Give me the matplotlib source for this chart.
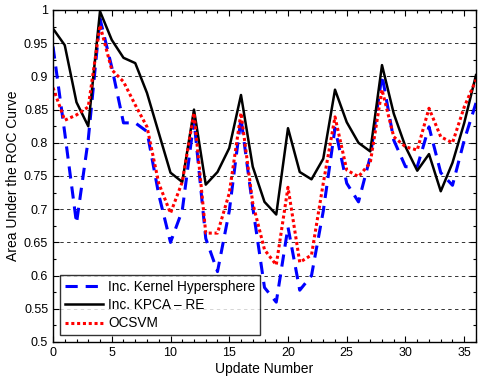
import matplotlib
matplotlib.use("Agg")
import matplotlib.pyplot as plt
from matplotlib.ticker import MultipleLocator
import numpy as np

plt.rcParams['font.family'] = ['Liberation Sans', 'DejaVu Sans']

updates = list(range(37))
kernel_hypersphere = [0.945, 0.815, 0.679, 0.805, 0.987, 0.914, 0.830, 0.830, 0.817, 0.722,
                      0.650, 0.698, 0.834, 0.656, 0.606, 0.697, 0.837, 0.703, 0.582, 0.560,
                      0.673, 0.578, 0.600, 0.697, 0.822, 0.739, 0.711, 0.779, 0.902, 0.804,
                      0.764, 0.764, 0.824, 0.755, 0.736, 0.804, 0.860]
kpca_re = [0.972, 0.947, 0.861, 0.825, 0.998, 0.955, 0.928, 0.920, 0.875, 0.815,
           0.755, 0.741, 0.850, 0.737, 0.756, 0.792, 0.872, 0.764, 0.711, 0.692,
           0.822, 0.756, 0.745, 0.776, 0.880, 0.831, 0.800, 0.787, 0.917, 0.844,
           0.794, 0.758, 0.783, 0.727, 0.770, 0.830, 0.902]
ocsvm = [0.883, 0.834, 0.842, 0.854, 0.977, 0.910, 0.892, 0.857, 0.824, 0.739,
         0.694, 0.741, 0.845, 0.664, 0.664, 0.724, 0.845, 0.709, 0.639, 0.616,
         0.733, 0.620, 0.631, 0.739, 0.839, 0.759, 0.749, 0.770, 0.880, 0.809,
         0.794, 0.789, 0.852, 0.809, 0.800, 0.854, 0.895]
labels = ['Inc. Kernel Hypersphere', 'Inc. KPCA \u2013 RE', 'OCSVM']

fig = plt.figure(figsize=(4.81, 3.84), dpi=100)
ax = fig.add_axes([53/481, 1-342/384, (476-53)/481, (342-10)/384])

ax.plot(updates, kernel_hypersphere, color='#0000ff', lw=2.2, dashes=(4, 2.6), label=labels[0])
ax.plot(updates, kpca_re, color='black', lw=1.8, label=labels[1])
ax.plot(updates, ocsvm, color='#ff0000', lw=2.2, dashes=(1, 0.9), label=labels[2])

ax.set_xlim(0, 36)
ax.set_ylim(0.5, 1.0)
ax.xaxis.set_major_locator(MultipleLocator(5))
ax.xaxis.set_minor_locator(MultipleLocator(1))
yt = np.round(np.arange(0.5, 1.0001, 0.05), 2)
ax.set_yticks(yt)
ax.set_yticklabels(['%g' % v for v in yt])
ax.yaxis.set_minor_locator(MultipleLocator(0.025))
ax.tick_params(which='both', direction='in', top=True, right=True, labelsize=9)
ax.tick_params(which='major', length=4, width=0.8)
ax.tick_params(which='minor', length=2.5, width=0.8)
ax.grid(axis='y', which='major', linestyle=(0, (3.5, 3.5)), color='#333333', lw=0.7)
for s in ax.spines.values():
    s.set_linewidth(1.0)

ax.set_xlabel('Update Number', fontsize=10, labelpad=2)
ax.set_ylabel('Area Under the ROC Curve', fontsize=10, labelpad=3)

leg = ax.legend(loc='lower left', bbox_to_anchor=(0.0165, 0.021), fontsize=9.8,
                handlelength=2.8, frameon=True, fancybox=False, borderpad=0.35,
                labelspacing=0.3, handletextpad=0.4, borderaxespad=0)
leg.get_frame().set_edgecolor('black')
leg.get_frame().set_linewidth(1.0)

fig.savefig('out.png', dpi=100)
